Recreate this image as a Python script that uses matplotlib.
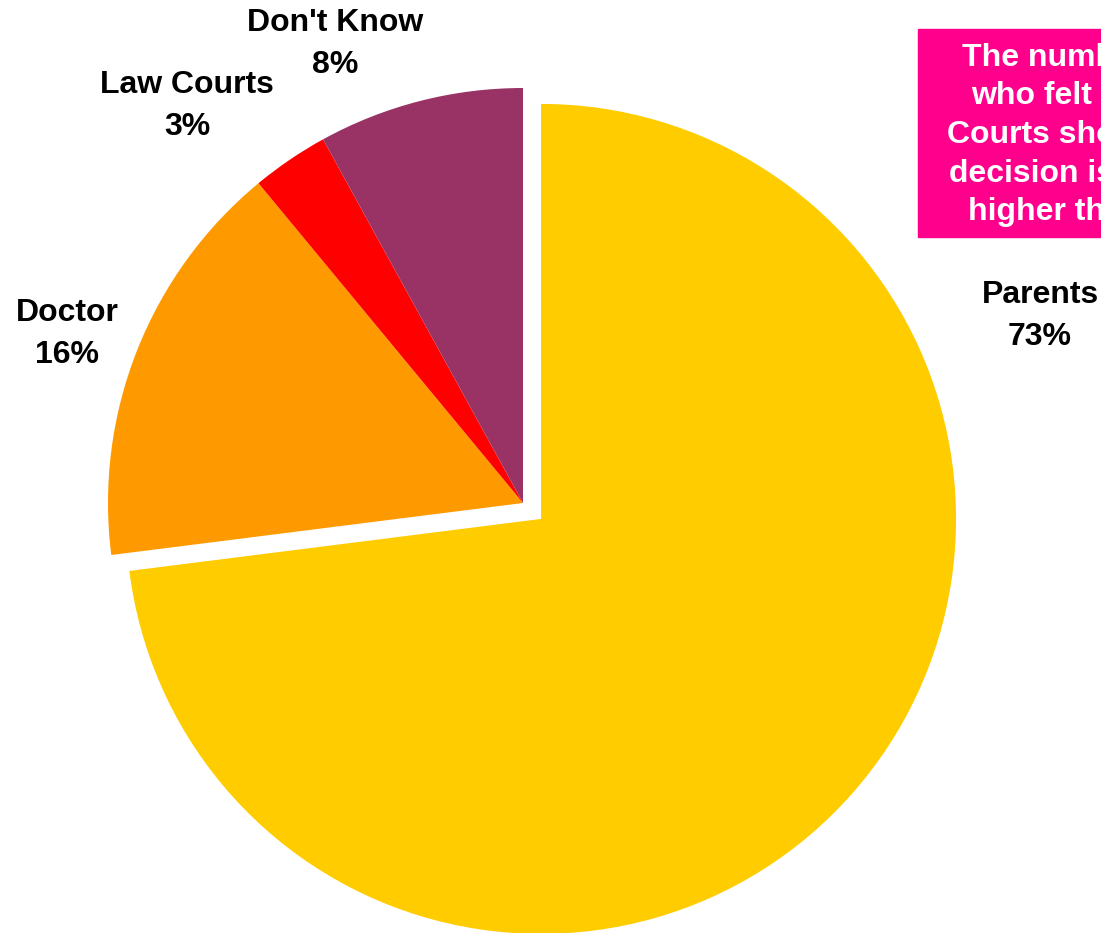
import matplotlib.pyplot as plt
from matplotlib.patches import Rectangle

plt.rcParams['font.family'] = ['Liberation Sans', 'DejaVu Sans']

labels = ['Parents', 'Doctor', 'Law Courts', "Don't Know"]
values = [73, 16, 3, 8]
colors = ['#FFCC00', '#FF9900', '#FF0000', '#993366']
explode = [0.058, 0, 0, 0]

note = ('The number of people\nwho felt that the Law\nCourts should make the\n'
        'decision is significantly\nhigher than expected')

W, H = 1101, 933
fig = plt.figure(figsize=(W / 100, H / 100), dpi=100)

# pie centre at (523, 503) px from top-left, radius 415 px
R = 415
a = 1.3
cx, cy = 523, H - 503
side = 2 * a * R
ax = fig.add_axes([(cx - side / 2) / W, (cy - side / 2) / H, side / W, side / H])
ax.pie(values, colors=colors, explode=explode, startangle=90, counterclock=False,
       radius=1, wedgeprops=dict(linewidth=0))
ax.set_xlim(-a, a)
ax.set_ylim(-a, a)
ax.axis('off')

# data labels
label_pos = {'Parents': (1040, 316), 'Doctor': (67, 334),
             'Law Courts': (187, 106), "Don't Know": (335, 44)}
for lab, val in zip(labels, values):
    x, y = label_pos[lab]
    fig.text(x / W, 1 - y / H, f'{lab}\n{val}%', ha='center', va='center',
             fontsize=23, fontweight='bold', linespacing=1.52, color='black')

# magenta note box (runs off the right edge)
fig.patches.append(Rectangle((918 / W, 1 - 237 / H), 440 / W, 208 / H,
                             transform=fig.transFigure, color='#FF008C', zorder=5))
fig.text((918 + 211) / W, 1 - 135 / H, note, ha='center', va='center',
         multialignment='center', fontsize=23, fontweight='bold', color='white',
         linespacing=1.38, zorder=6)

fig.savefig('out.png', dpi=100)
